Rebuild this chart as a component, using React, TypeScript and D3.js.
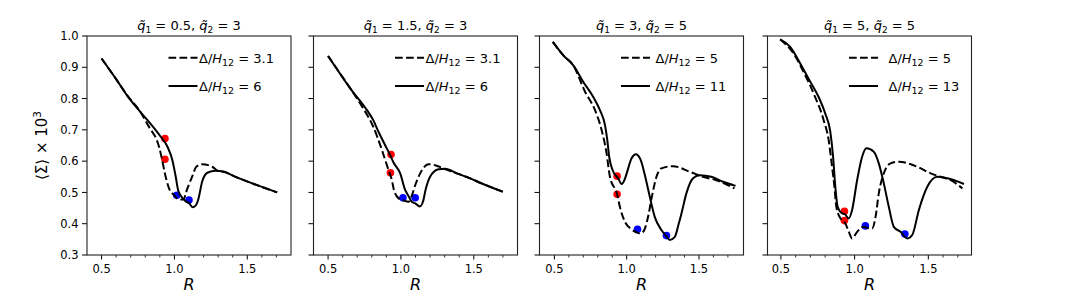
import React from 'react';
import * as d3 from 'd3';

type Pt = [number, number];

// headings / legend text
const q1Values = ['0.5', '1.5', '3', '5'];
const q2Values = ['3', '3', '5', '5'];
const dashedLabels = ['3.1', '3.1', '5', '5'];
const solidLabels = ['6', '6', '11', '13'];

const yTicks = [0.3, 0.4, 0.5, 0.6, 0.7, 0.8, 0.9, 1.0];
const xMajorTicks = [0.5, 1.0, 1.5];
const xMinorTicks = [0.6, 0.7, 0.8, 0.9, 1.1, 1.2, 1.3, 1.4, 1.6, 1.7];

// panel 1: q1 = 0.5, q2 = 3
const p1Dashed: Pt[] = [
  [0.5, 0.928], [0.6, 0.862], [0.68, 0.808], [0.758, 0.763], [0.838, 0.7], [0.872, 0.675],
  [0.895, 0.645], [0.915, 0.605], [0.935, 0.56], [0.963, 0.513], [0.997, 0.492],
  [1.03, 0.478], [1.06, 0.477], [1.089, 0.513], [1.123, 0.552], [1.15, 0.582],
  [1.19, 0.59], [1.26, 0.582], [1.3, 0.568], [1.34, 0.566], [1.408, 0.552],
  [1.545, 0.527], [1.705, 0.5],
];
const p1Solid: Pt[] = [
  [0.5, 0.928], [0.6, 0.862], [0.678, 0.808], [0.75, 0.766], [0.815, 0.731], [0.87, 0.7],
  [0.906, 0.678], [0.952, 0.646], [0.986, 0.603], [1.009, 0.55], [1.025, 0.508],
  [1.043, 0.49], [1.077, 0.472], [1.1, 0.466], [1.125, 0.453], [1.145, 0.458],
  [1.165, 0.48], [1.19, 0.534], [1.226, 0.563], [1.283, 0.569], [1.34, 0.566],
  [1.408, 0.552], [1.545, 0.527], [1.705, 0.5],
];
const p1Red: Pt[] = [[0.935, 0.672], [0.935, 0.606]];
const p1Blue: Pt[] = [[1.016, 0.491], [1.1, 0.476]];

// panel 2: q1 = 1.5, q2 = 3
const p2Dashed: Pt[] = [
  [0.5, 0.936], [0.653, 0.832], [0.733, 0.775], [0.81, 0.71], [0.87, 0.635], [0.915, 0.571],
  [0.938, 0.539], [0.952, 0.508], [0.984, 0.481], [1.02, 0.474], [1.052, 0.47],
  [1.075, 0.49], [1.098, 0.523], [1.132, 0.561], [1.189, 0.59], [1.235, 0.587],
  [1.29, 0.577], [1.384, 0.561], [1.475, 0.545], [1.543, 0.531], [1.7, 0.502],
];
const p2Solid: Pt[] = [
  [0.5, 0.936], [0.653, 0.832], [0.767, 0.763], [0.81, 0.731], [0.85, 0.69], [0.892, 0.651],
  [0.925, 0.62], [0.95, 0.595], [0.995, 0.561], [1.029, 0.508], [1.05, 0.49],
  [1.075, 0.47], [1.098, 0.465], [1.13, 0.455], [1.151, 0.47], [1.17, 0.51],
  [1.2, 0.55], [1.258, 0.574], [1.303, 0.576], [1.384, 0.561], [1.475, 0.545],
  [1.543, 0.531], [1.7, 0.502],
];
const p2Red: Pt[] = [[0.932, 0.621], [0.928, 0.563]];
const p2Blue: Pt[] = [[1.014, 0.483], [1.098, 0.483]];

// panel 3: q1 = 3, q2 = 5
const p3Dashed: Pt[] = [
  [0.489, 0.981], [0.562, 0.938], [0.631, 0.906], [0.712, 0.822], [0.781, 0.763],
  [0.827, 0.699], [0.861, 0.625], [0.884, 0.55], [0.934, 0.494], [0.953, 0.454],
  [0.988, 0.406], [1.034, 0.382], [1.07, 0.372], [1.091, 0.369], [1.114, 0.374],
  [1.148, 0.422], [1.172, 0.481], [1.206, 0.55], [1.24, 0.577], [1.32, 0.584],
  [1.436, 0.566], [1.528, 0.55], [1.62, 0.539], [1.746, 0.513],
];
const p3Solid: Pt[] = [
  [0.489, 0.981], [0.562, 0.938], [0.631, 0.906], [0.7, 0.853], [0.769, 0.805],
  [0.815, 0.763], [0.85, 0.715], [0.866, 0.667], [0.879, 0.614], [0.903, 0.571],
  [0.941, 0.545], [0.965, 0.527], [0.985, 0.54], [1.0, 0.561], [1.034, 0.609],
  [1.063, 0.622], [1.096, 0.605], [1.126, 0.555], [1.16, 0.486], [1.194, 0.422],
  [1.24, 0.38], [1.275, 0.36], [1.298, 0.348], [1.332, 0.357], [1.36, 0.4],
  [1.379, 0.433], [1.413, 0.497], [1.459, 0.545], [1.505, 0.555], [1.585, 0.55],
  [1.666, 0.534], [1.753, 0.521],
];
const p3Red: Pt[] = [[0.934, 0.552], [0.934, 0.494]];
const p3Blue: Pt[] = [[1.075, 0.382], [1.275, 0.362]];

// panel 4: q1 = 5, q2 = 5
const p4Dashed: Pt[] = [
  [0.495, 0.989], [0.586, 0.944], [0.654, 0.885], [0.722, 0.816], [0.79, 0.731],
  [0.824, 0.667], [0.847, 0.582], [0.863, 0.518], [0.876, 0.454], [0.9, 0.42],
  [0.937, 0.401], [0.96, 0.375], [0.983, 0.353], [1.017, 0.374], [1.062, 0.39],
  [1.1, 0.385], [1.119, 0.385], [1.142, 0.422], [1.164, 0.497], [1.198, 0.561],
  [1.244, 0.593], [1.3, 0.598], [1.425, 0.582], [1.516, 0.561], [1.584, 0.55],
  [1.652, 0.539], [1.731, 0.513],
];
const p4Solid: Pt[] = [
  [0.495, 0.989], [0.563, 0.965], [0.631, 0.912], [0.7, 0.853], [0.756, 0.805],
  [0.801, 0.752], [0.835, 0.694], [0.854, 0.614], [0.869, 0.518], [0.885, 0.454],
  [0.91, 0.435], [0.935, 0.43], [0.96, 0.417], [0.983, 0.444], [1.017, 0.539],
  [1.051, 0.614], [1.08, 0.641], [1.13, 0.63], [1.164, 0.593], [1.198, 0.529],
  [1.232, 0.454], [1.266, 0.39], [1.312, 0.374], [1.357, 0.353], [1.391, 0.364],
  [1.436, 0.444], [1.493, 0.518], [1.561, 0.55], [1.629, 0.545], [1.742, 0.527],
];
const p4Red: Pt[] = [[0.931, 0.44], [0.931, 0.41]];
const p4Blue: Pt[] = [[1.073, 0.393], [1.341, 0.367]];

const dashedSeries = [p1Dashed, p2Dashed, p3Dashed, p4Dashed];
const solidSeries = [p1Solid, p2Solid, p3Solid, p4Solid];
const redPoints = [p1Red, p2Red, p3Red, p4Red];
const bluePoints = [p1Blue, p2Blue, p3Blue, p4Blue];

// layout
const W = 1079;
const H = 300;
const axLeft = [87, 313.5, 539.5, 767.5];
const axW = 204;
const axTop = 36;
const axH = 219;
const xLimits: Pt[] = [[0.4, 1.8], [0.4, 1.8], [0.397, 1.808], [0.409, 1.793]];
const legendTextX = [112, 112, 116, 121];
const legendRowY = [57.7, 86];
const font = '"DejaVu Sans", sans-serif';

function Panel({ i }: { i: number }) {
  const left = axLeft[i];
  const x = d3.scaleLinear().domain(xLimits[i]).range([left, left + axW]);
  const y = d3.scaleLinear().domain([0.3, 1.0]).range([axTop + axH, axTop]);
  const line = d3
    .line<Pt>()
    .x((d) => x(d[0]))
    .y((d) => y(d[1]))
    .curve(d3.curveMonotoneX);
  const bottom = axTop + axH;
  const cx = left + axW / 2;

  return (
    <g>
      {/* title */}
      <text x={cx} y={30} textAnchor="middle" fontSize={13} fontStyle="italic">
        {'q\u0303'}
        <tspan dy={3} fontSize={9} fontStyle="normal">1</tspan>
        <tspan dy={-3} fontStyle="normal">{` = ${q1Values[i]}, `}</tspan>
        <tspan>{'q\u0303'}</tspan>
        <tspan dy={3} fontSize={9} fontStyle="normal">2</tspan>
        <tspan dy={-3} fontStyle="normal">{` = ${q2Values[i]}`}</tspan>
      </text>

      {/* y ticks */}
      {yTicks.map((t) => (
        <g key={'y' + t}>
          <line x1={left - 5} x2={left} y1={y(t)} y2={y(t)} stroke="#000" strokeWidth={1} />
          {i === 0 && (
            <text x={left - 8.5} y={y(t) + 4.1} textAnchor="end" fontSize={11.5}>
              {t.toFixed(1)}
            </text>
          )}
        </g>
      ))}

      {/* x ticks */}
      {xMajorTicks.map((t) => (
        <g key={'x' + t}>
          <line x1={x(t)} x2={x(t)} y1={bottom} y2={bottom + 4.5} stroke="#000" strokeWidth={1} />
          <text x={x(t)} y={273} textAnchor="middle" fontSize={11.5}>
            {t.toFixed(1)}
          </text>
        </g>
      ))}
      {xMinorTicks.map((t) => (
        <line key={'m' + t} x1={x(t)} x2={x(t)} y1={bottom} y2={bottom + 2.5} stroke="#000" strokeWidth={0.8} />
      ))}
      <text x={cx} y={290} textAnchor="middle" fontSize={16} fontStyle="italic">
        R
      </text>

      {/* markers under the curves */}
      {redPoints[i].map((p, k) => (
        <circle key={'r' + k} cx={x(p[0])} cy={y(p[1])} r={3.8} fill="#ff0000" />
      ))}
      {bluePoints[i].map((p, k) => (
        <circle key={'b' + k} cx={x(p[0])} cy={y(p[1])} r={3.8} fill="#0000ff" />
      ))}

      <path d={line(dashedSeries[i]) ?? ''} fill="none" stroke="#000" strokeWidth={2} strokeDasharray="7.7,3.3" />
      <path d={line(solidSeries[i]) ?? ''} fill="none" stroke="#000" strokeWidth={2} />

      {/* legend */}
      {[dashedLabels[i], solidLabels[i]].map((lab, k) => (
        <g key={'l' + k}>
          <line
            x1={left + 81.5}
            x2={left + 110.5}
            y1={legendRowY[k]}
            y2={legendRowY[k]}
            stroke="#000"
            strokeWidth={2}
            strokeDasharray={k === 0 ? '7.7,3.3' : undefined}
          />
          <text x={left + legendTextX[i]} y={legendRowY[k] + 4.8} fontSize={13}>
            Δ/
            <tspan fontStyle="italic">H</tspan>
            <tspan dy={3} fontSize={9.5}>12</tspan>
            <tspan dy={-3}>{` = ${lab}`}</tspan>
          </text>
        </g>
      ))}

      {/* frame */}
      <rect x={left} y={axTop} width={axW} height={axH} fill="none" stroke="#222" strokeWidth={1.1} />
    </g>
  );
}

export default function App() {
  return (
    <svg
      width={W}
      height={H}
      style={{ position: 'absolute', left: 0, top: 0, background: '#fff' }}
      fontFamily={font}
    >
      <rect width={W} height={H} fill="#fff" />
      <text transform={`translate(47,${axTop + axH / 2}) rotate(-90)`} textAnchor="middle" fontSize={15}>
        ⟨Σ⟩ × 10<tspan dy={-6} fontSize={10.5}>3</tspan>
      </text>
      {[0, 1, 2, 3].map((i) => (
        <Panel key={i} i={i} />
      ))}
    </svg>
  );
}
